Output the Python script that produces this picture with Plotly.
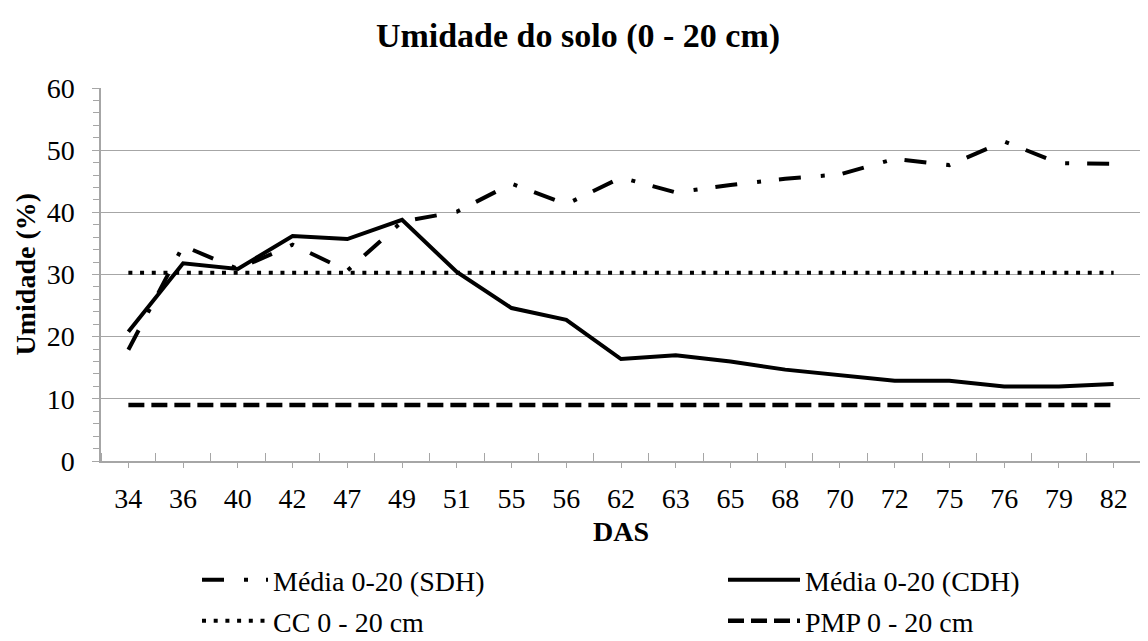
import plotly.graph_objects as go

# DAS (dias após semeadura)
das = ["34", "36", "40", "42", "47", "49", "51", "55", "56", "62",
       "63", "65", "68", "70", "72", "75", "76", "79", "82"]

media_sdh = [17.9, 34.6, 30.9, 34.8, 30.6, 38.5, 40.1, 44.6, 41.3, 45.6,
             43.2, 44.4, 45.4, 46.1, 48.6, 47.6, 51.4, 47.9, 47.8]
media_cdh = [20.8, 31.8, 30.9, 36.2, 35.7, 38.8, 30.4, 24.6, 22.7, 16.4,
             17.0, 16.0, 14.7, 13.8, 12.9, 12.9, 12.0, 12.0, 12.4]
cc = [30.3] * len(das)
pmp = [9.0] * len(das)

xpos = list(range(len(das)))
serif = "Liberation Serif"
grid = "#a6a6a6"

# the page has an 8px body margin, so the figure is 16px smaller than the window
W, H = 1140, 633
L, R, T, B = 93, 7, 80, 180

fig = go.Figure()

fig.add_trace(go.Scatter(x=xpos, y=media_sdh, mode="lines", name="Média 0-20 (SDH)",
                         line=dict(color="black", width=4, dash="22px,20px,4px,18px"),
                         legend="legend"))
fig.add_trace(go.Scatter(x=xpos, y=media_cdh, mode="lines", name="Média 0-20 (CDH)",
                         line=dict(color="black", width=4), legend="legend2"))
fig.add_trace(go.Scatter(x=xpos, y=cc, mode="lines", name="CC 0 - 20 cm",
                         line=dict(color="black", width=4, dash="4px,7.7px"),
                         legend="legend3"))
fig.add_trace(go.Scatter(x=xpos, y=pmp, mode="lines", name="PMP 0 - 20 cm",
                         line=dict(color="black", width=4.5, dash="16px,7px"),
                         legend="legend4"))

leg = dict(xref="container", yref="container", xanchor="left", yanchor="middle",
           bgcolor="rgba(0,0,0,0)", font=dict(family=serif, size=28, color="black"))
row1, row2 = 1 - 572 / H, 1 - 613 / H
col1, col2 = 189 / W, 715 / W

fig.update_layout(
    width=W, height=H,
    plot_bgcolor="white", paper_bgcolor="white",
    margin=dict(l=L, r=R, t=T, b=B, autoexpand=False),
    title=dict(text="<b>Umidade do solo (0 - 20 cm)</b>", x=0.5, xanchor="center",
               y=1 - 27 / H, yanchor="middle",
               font=dict(family=serif, size=34, color="black")),
    font=dict(family=serif, color="black"),
    showlegend=True,
    legend=dict(leg, x=col1, y=row1, itemwidth=66),
    legend2=dict(leg, x=col2, y=row1, itemwidth=72),
    legend3=dict(leg, x=col1, y=row2, itemwidth=66),
    legend4=dict(leg, x=col2, y=row2, itemwidth=72),
)

# y-axis title as a rotated annotation (axis title standoff misbehaves without autoexpand)
fig.add_annotation(text="<b>Umidade (%)</b>", xref="paper", yref="paper",
                   x=(17 - L) / (W - L - R), y=0.5, xanchor="center", yanchor="middle",
                   textangle=-90, showarrow=False,
                   font=dict(family=serif, size=28, color="black"))

fig.update_xaxes(
    range=[-0.5, len(das) - 0.5],
    tickmode="array", tickvals=xpos, ticktext=das,
    ticks="outside", ticklen=5, tickcolor=grid,
    showline=True, linecolor=grid, linewidth=1.5,
    showgrid=False, zeroline=False,
    tickfont=dict(family=serif, size=28, color="black"),
    ticklabelstandoff=7,
    minor=dict(tickmode="array", tickvals=[i - 0.5 for i in xpos] + [len(das) - 0.5],
               ticks="inside", ticklen=8, tickcolor=grid, showgrid=False),
    title=dict(text="<b>DAS</b>", font=dict(family=serif, size=28, color="black"),
               standoff=8),
)

fig.update_yaxes(
    range=[0, 60], dtick=10,
    ticks="outside", ticklen=7, tickcolor=grid,
    showline=True, linecolor=grid, linewidth=1.5,
    showgrid=True, gridcolor=grid, gridwidth=1.3, zeroline=False,
    tickfont=dict(family=serif, size=28, color="black"),
    ticklabelstandoff=12,
    minor=dict(dtick=2, ticks="outside", ticklen=6, tickcolor=grid, showgrid=False),
)

fig.write_html("out.html")
